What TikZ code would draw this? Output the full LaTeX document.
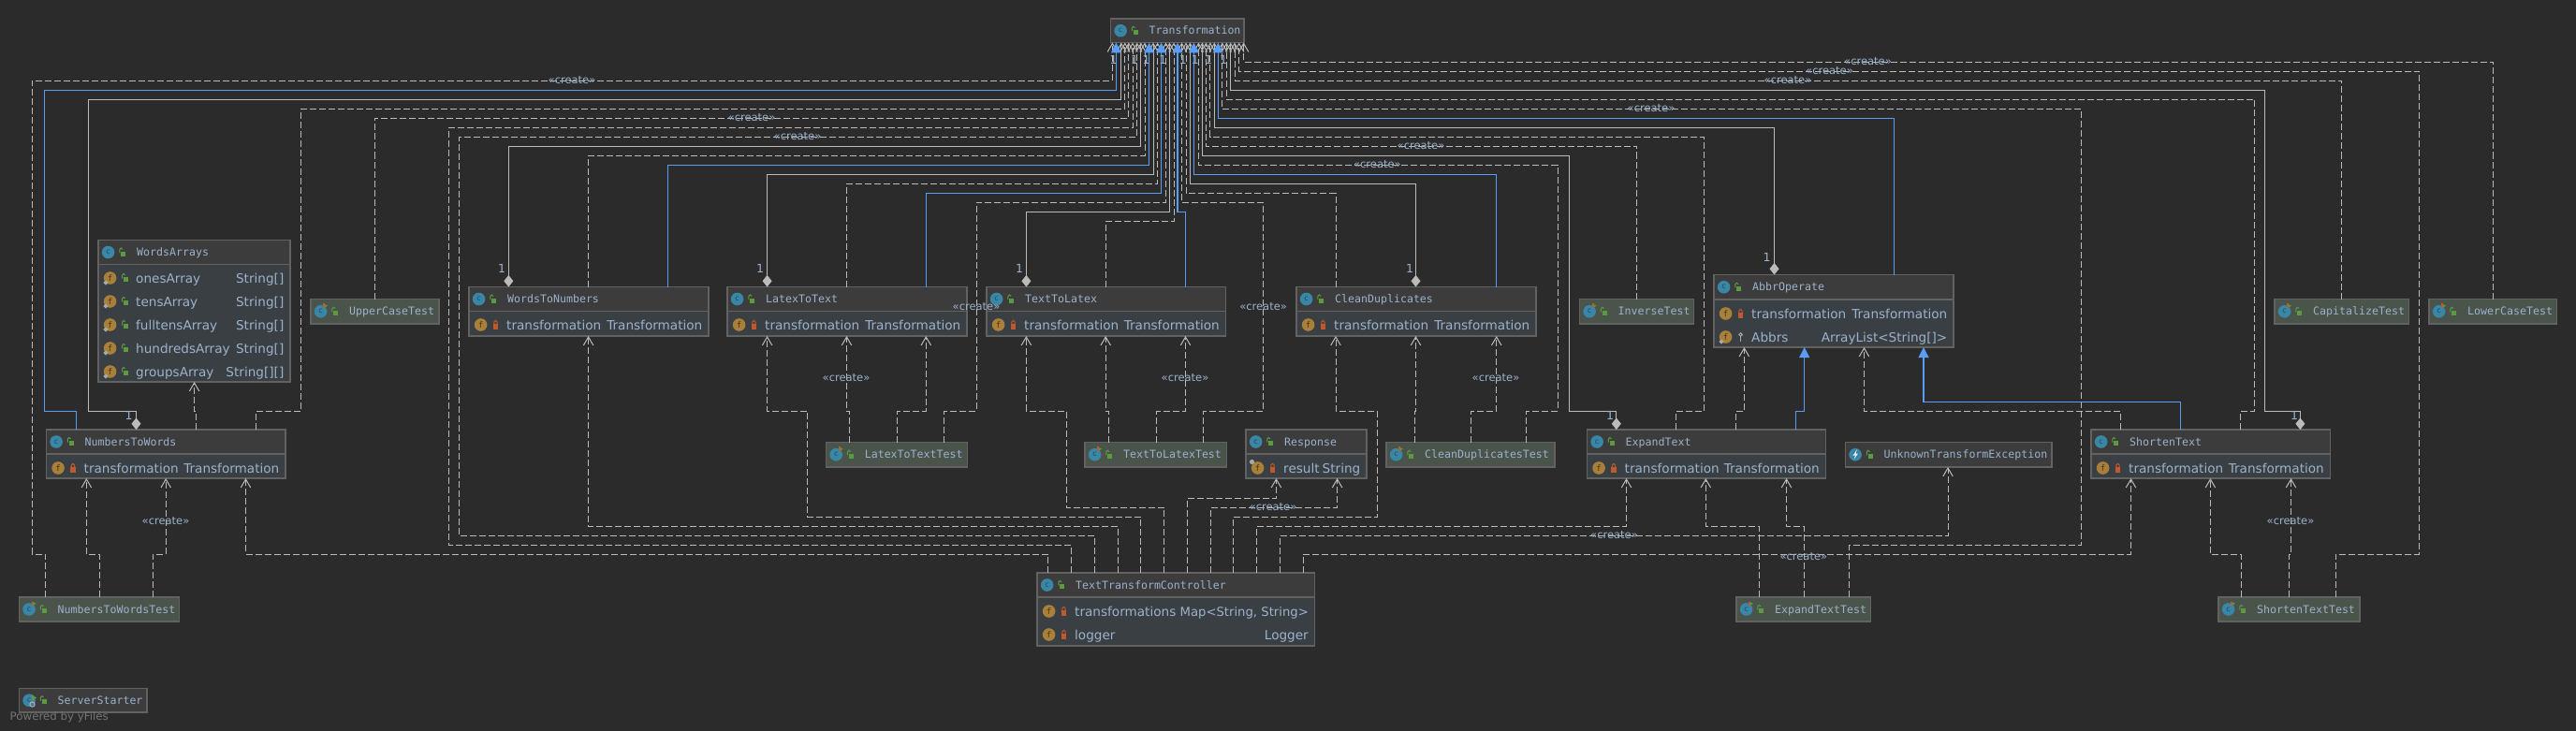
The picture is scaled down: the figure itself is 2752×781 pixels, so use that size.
\documentclass[tikz,border=0pt]{standalone}
\usepackage{fontspec}
\setmainfont{DejaVu Sans}
\newfontfamily\titlefont{DejaVu Sans Mono}
\usetikzlibrary{arrows.meta}
\definecolor{bgc}{HTML}{2B2B2B}
\definecolor{hdr}{HTML}{3C3C3C}
\definecolor{fld}{HTML}{3A3F43}
\definecolor{tst}{HTML}{4A544B}
\definecolor{brd}{HTML}{626262}
\definecolor{txt}{HTML}{9CB2CC}
\definecolor{lin}{HTML}{BBBBBB}
\definecolor{blu}{HTML}{589DF6}
\definecolor{tealc}{HTML}{3A86A6}
\definecolor{tealdk}{HTML}{1D4A5E}
\definecolor{orng}{HTML}{A9803A}
\definecolor{orngdk}{HTML}{4A3413}
\definecolor{grn}{HTML}{5B9A41}
\definecolor{redl}{HTML}{C05A2E}
\definecolor{mrkc}{HTML}{A8A8A8}
\tikzset{
  x=1pt,y=-1pt,
  boxn/.style={draw=brd,line width=1.2pt,inner sep=0pt,outer sep=0pt,rectangle},
  titlen/.style={anchor=base west,inner sep=0pt,text=txt,font=\titlefont\fontsize{11.6}{12}\selectfont},
  namen/.style={anchor=base west,inner sep=0pt,text=txt,font=\fontsize{13.6}{14}\selectfont},
  typen/.style={anchor=base east,inner sep=0pt,text=txt,font=\fontsize{13.6}{14}\selectfont},
  lab/.style={inner sep=0pt,text=txt,font=\fontsize{11.5}{12}\selectfont},
  mult/.style={inner sep=0pt,text=txt,font=\fontsize{12.5}{13}\selectfont},
  cicon/.style={circle,fill=tealc,inner sep=0pt,minimum size=13.6pt,text=tealdk,font=\titlefont\fontsize{8}{8}\selectfont},
  ficon/.style={circle,fill=orng,inner sep=0pt,minimum size=13.6pt,text=orngdk,font=\titlefont\fontsize{9}{9}\selectfont},
  dep/.style={draw=lin,line width=1pt,dash pattern=on 7pt off 3pt,-{Straight Barb[length=9pt,width=10.5pt,line width=1pt]}},
  ass/.style={draw=lin,line width=1pt,{Diamond[length=12.5pt,width=10pt,fill=lin]}-{Straight Barb[length=9pt,width=10.5pt,line width=1pt]}},
  inh/.style={draw=blu,line width=1.2pt,-{Triangle[length=11pt,width=11pt,fill=blu]}},
}
% open padlock, closed padlock, key
\newcommand{\lockO}[2]{\fill[grn] ({#1-1.5},{#2-1}) rectangle ({#1+3.5},{#2+4});
  \draw[grn,line width=1pt] ({#1-3},{#2+0.5}) -- ({#1-3},{#2-3}) arc[start angle=180,end angle=360,radius=1.6];}
\newcommand{\lockC}[2]{\fill[redl] ({#1-2.8},{#2-1}) rectangle ({#1+2.8},{#2+4.5});
  \draw[redl,line width=1pt] ({#1-1.7},{#2-1}) -- ({#1-1.7},{#2-3}) arc[start angle=180,end angle=360,radius=1.7] -- ({#1+1.7},{#2-1});}
\newcommand{\lockK}[2]{\draw[mrkc,line width=1pt] (#1,{#2-2.5}) circle[radius=1.8];
  \fill[mrkc] ({#1-0.8},{#2-1}) rectangle ({#1+0.8},{#2+4.5});}
\newcommand{\statm}[2]{\fill[mrkc] ({#1-4.6},{#2+2.4}) -- ({#1-2},{#2+5}) -- ({#1-4.6},{#2+7.6}) -- ({#1-7.2},{#2+5}) -- cycle;}
% \cbox{name}{x1}{y1}{x2}{y2}{header bottom}{fill}{title}
\newcommand{\cbox}[8]{%
  \pgfmathsetmacro{\cxx}{(#2+#4)/2}\pgfmathsetmacro{\cyy}{(#3+#5)/2}%
  \pgfmathsetmacro{\ww}{#4-#2}\pgfmathsetmacro{\hh}{#5-#3}%
  \pgfmathsetmacro{\hyy}{(#3+#6)/2}\pgfmathsetmacro{\lkx}{#2+25.8}%
  \node[boxn,fill=fld,minimum width=\ww pt,minimum height=\hh pt] (#1) at (\cxx,\cyy) {};
  \fill[#7] (#2,#3) rectangle (#4,#6);
  \draw[brd,line width=1.2pt] (#2,#3) rectangle (#4,#5);
  \draw[brd,line width=1.2pt] (#2,#6) -- (#4,#6);
  \node[titlen] (#1-title) at ({#2+41},{\hyy+4}) {#8};
  \node[cicon] (#1-icon) at ({#2+10.6},\hyy) {c};
  \lockO{\lkx}{\hyy}
}
% test-marked version of the icon decorations
\newcommand{\tmark}[2]{\fill[redl] ({#1+2.5},{#2-8.5}) rectangle ({#1+4.5},{#2-4});\fill[grn] ({#1+4.5},{#2-7.5}) -- ({#1+7.5},{#2-6}) -- ({#1+4.5},{#2-4.5}) -- cycle;}
% \frow{id}{x1}{x2}{y}{name}{type}{lock: O/C/K}
\newcommand{\frow}[7]{%
  \pgfmathsetmacro{\lkx}{#2+28.5}%
  \node[ficon] (#1-icon) at ({#2+12.6},#4) {f};
  \csname lock#7\endcsname{\lkx}{#4}
  \node[namen] (#1-name) at ({#2+40},{#4+5}) {#5};
  \node[typen] (#1-type) at ({#3-6.5},{#4+5}) {#6};
}
% \cn{style}{source anchor}{x}{middle points}{target anchor}{x}
\newcommand{\cn}[6]{\draw[#1] (#3,0 |- #2) -- #4 -- (#6,0 |- #5);}
\begin{document}
\begin{tikzpicture}
\useasboundingbox (0,0) rectangle (2752,781);
\fill[bgc] (0,0) rectangle (2752,781);

% ---------- classes
\cbox{T}{1186.5}{20}{1329}{45.5}{45.5}{hdr}{Transformation}
\cbox{WA}{105}{256.5}{310}{408}{282.5}{hdr}{WordsArrays}
\frow{WA1}{105}{310}{297}{onesArray}{String[]}{O}\statm{117.6}{297}
\frow{WA2}{105}{310}{322}{tensArray}{String[]}{O}\statm{117.6}{322}
\frow{WA3}{105}{310}{347}{fulltensArray}{String[]}{O}\statm{117.6}{347}
\frow{WA4}{105}{310}{372}{hundredsArray}{String[]}{O}\statm{117.6}{372}
\frow{WA5}{105}{310}{397}{groupsArray}{String[][]}{O}\statm{117.6}{397}

\cbox{UCT}{332}{319.5}{469}{346}{346}{tst}{UpperCaseTest}\tmark{342.6}{332.8}
\cbox{IT}{1687.5}{319.5}{1809.5}{346}{346}{tst}{InverseTest}\tmark{1698.1}{332.8}
\cbox{CT}{2430}{319.5}{2573.5}{346}{346}{tst}{CapitalizeTest}\tmark{2440.6}{332.8}
\cbox{LCT}{2595}{319.5}{2731.5}{346}{346}{tst}{LowerCaseTest}\tmark{2605.6}{332.8}

\cbox{W2N}{501}{306.5}{757}{359}{332.5}{hdr}{WordsToNumbers}
\frow{W2N1}{501}{757}{347}{transformation}{Transformation}{C}
\cbox{L2T}{777}{306.5}{1033}{359}{332.5}{hdr}{LatexToText}
\frow{L2T1}{777}{1033}{347}{transformation}{Transformation}{C}
\cbox{T2L}{1054}{306.5}{1309.5}{359}{332.5}{hdr}{TextToLatex}
\frow{T2L1}{1054}{1309.5}{347}{transformation}{Transformation}{C}
\cbox{CD}{1385}{306.5}{1641}{359}{332.5}{hdr}{CleanDuplicates}
\frow{CD1}{1385}{1641}{347}{transformation}{Transformation}{C}

\cbox{AO}{1831}{293.5}{2087}{371}{320}{hdr}{AbbrOperate}
\frow{AO1}{1831}{2087}{335}{transformation}{Transformation}{C}
\frow{AO2}{1831}{2087}{360}{Abbrs}{ArrayList<String[]>}{K}\statm{1843.6}{360}

\cbox{N2W}{49.5}{459}{305}{511}{485}{hdr}{NumbersToWords}
\frow{N2W1}{49.5}{305}{500}{transformation}{Transformation}{C}
\cbox{R}{1331}{459}{1460}{511}{485}{hdr}{Response}
\frow{R1}{1331}{1460}{500}{result}{String}{C}
\fill[mrkc] (1337.5,493.5) circle[radius=2.6];
\cbox{ET}{1695.5}{459}{1950.5}{511}{485}{hdr}{ExpandText}
\frow{ET1}{1695.5}{1950.5}{500}{transformation}{Transformation}{C}
\cbox{ST}{2234}{459}{2489.5}{511}{485}{hdr}{ShortenText}
\frow{ST1}{2234}{2489.5}{500}{transformation}{Transformation}{C}

\cbox{L2TT}{882.6}{472.5}{1033.5}{499}{499}{tst}{LatexToTextTest}\tmark{893.2}{485.8}
\cbox{T2LT}{1159}{472.5}{1310.7}{499}{499}{tst}{TextToLatexTest}\tmark{1169.6}{485.8}
\cbox{CDT}{1481}{472.5}{1661}{499}{499}{tst}{CleanDuplicatesTest}\tmark{1491.6}{485.8}
\cbox{UTE}{1971.5}{472.5}{2192}{499}{499}{hdr}{UnknownTransformException}
\fill[white!85!tealc] (1984,480) -- (1979.5,486.5) -- (1982,486.5) -- (1980.5,491) -- (1985,484.5) -- (1982.5,484.5) -- cycle;

\cbox{N2WT}{20.5}{638}{191.5}{664}{664}{tst}{NumbersToWordsTest}\tmark{31.1}{651}
\cbox{ETT}{1855}{638}{1998.5}{664}{664}{tst}{ExpandTextTest}\tmark{1865.6}{651}
\cbox{STT}{2370}{638}{2521}{664}{664}{tst}{ShortenTextTest}\tmark{2380.6}{651}
\cbox{SS}{20.5}{735.5}{157}{761}{761}{hdr}{ServerStarter}
\fill[grn] (34,742) -- (39,745.5) -- (34,749) -- cycle;
\draw[mrkc,line width=1.2pt] (34.5,752.5) circle[radius=2.6];

\cbox{TTC}{1108}{612}{1404.5}{690}{638}{hdr}{TextTransformController}
\frow{TTC1}{1108}{1404.5}{653}{transformations}{\fontsize{13.2}{14}\selectfont Map<String, String>}{C}
\frow{TTC2}{1108}{1404.5}{678}{logger}{Logger}{C}

\node[anchor=west,inner sep=0pt,text=white!35!bgc,font=\fontsize{11.8}{12}\selectfont] (yf) at (10.5,766) {Powered by yFiles};

% ---------- edges to Transformation
\cn{dep}{N2WT.north}{48.7}{(48.7,592) -- (34.4,592) -- (34.4,86.3) -- (1188.4,86.3)}{T.south}{1188.4}
\cn{ass}{N2W.north}{145.5}{(145.5,439.3) -- (94.6,439.3) -- (94.6,106.3) -- (1197.8,106.3)}{T.south}{1197.8}
\cn{dep}{N2W.north}{273.7}{(273.7,439.3) -- (321.4,439.3) -- (321.4,116.3) -- (1201.8,116.3)}{T.south}{1201.8}
\cn{dep}{UCT.north}{400.4}{(400.4,126.3) -- (1205.8,126.3)}{T.south}{1205.8}
\cn{dep}{TTC.north}{1144.6}{(1144.6,582.3) -- (479.5,582.3) -- (479.5,136.3) -- (1210,136.3)}{T.south}{1210}
\cn{dep}{TTC.north}{1169.6}{(1169.6,572.3) -- (490.6,572.3) -- (490.6,146.3) -- (1214.7,146.3)}{T.south}{1214.7}
\cn{ass}{W2N.north}{543.3}{(543.3,156.3) -- (1218.8,156.3)}{T.south}{1218.8}
\cn{dep}{W2N.north}{628.6}{(628.6,166.3) -- (1223,166.3)}{T.south}{1223}
\cn{ass}{L2T.north}{819.6}{(819.6,186.3) -- (1232,186.3)}{T.south}{1232}
\cn{dep}{L2T.north}{904.5}{(904.5,196.3) -- (1236.6,196.3)}{T.south}{1236.6}
\cn{dep}{L2TT.north}{1008.5}{(1008.5,439.3) -- (1043.3,439.3) -- (1043.3,216.3) -- (1245.5,216.3)}{T.south}{1245.5}
\cn{ass}{T2L.north}{1096.4}{(1096.4,226.3) -- (1249.5,226.3)}{T.south}{1249.5}
\cn{dep}{T2L.north}{1181}{(1181,236.3) -- (1254,236.3)}{T.south}{1254}
\cn{dep}{T2LT.north}{1285}{(1285,439.3) -- (1349.6,439.3) -- (1349.6,216.3) -- (1262.5,216.3)}{T.south}{1262.5}
\cn{dep}{CD.north}{1427}{(1427,206.3) -- (1267,206.3)}{T.south}{1267}
\cn{ass}{CD.north}{1512.5}{(1512.5,196.3) -- (1271.4,196.3)}{T.south}{1271.4}
\cn{dep}{CDT.north}{1630.4}{(1630.4,439.3) -- (1664.3,439.3) -- (1664.3,176.3) -- (1280.4,176.3)}{T.south}{1280.4}
\cn{ass}{ET.north}{1726.8}{(1726.8,439.3) -- (1676.3,439.3) -- (1676.3,166.3) -- (1284.4,166.3)}{T.south}{1284.4}
\cn{dep}{IT.north}{1748.7}{(1748.7,156.3) -- (1288.4,156.3)}{T.south}{1288.4}
\cn{dep}{ET.north}{1790.6}{(1790.6,439.3) -- (1820.5,439.3) -- (1820.5,146.3) -- (1292.9,146.3)}{T.south}{1292.9}
\cn{ass}{AO.north}{1895.5}{(1895.5,136.3) -- (1297.3,136.3)}{T.south}{1297.3}
\cn{dep}{ETT.north}{1975.4}{(1975.4,582.3) -- (2223.4,582.3) -- (2223.4,116.3) -- (1305.8,116.3)}{T.south}{1305.8}
\cn{dep}{ST.north}{2393.5}{(2393.5,439.3) -- (2408.7,439.3) -- (2408.7,106.3) -- (1310.3,106.3)}{T.south}{1310.3}
\cn{ass}{ST.north}{2457.4}{(2457.4,439.3) -- (2419.4,439.3) -- (2419.4,96.3) -- (1314.7,96.3)}{T.south}{1314.7}
\cn{dep}{CT.north}{2501.5}{(2501.5,86.3) -- (1319,86.3)}{T.south}{1319}
\cn{dep}{STT.north}{2495.3}{(2495.3,592) -- (2584.6,592) -- (2584.6,76.3) -- (1323.7,76.3)}{T.south}{1323.7}
\cn{dep}{LCT.north}{2663.6}{(2663.6,66.3) -- (1328.6,66.3)}{T.south}{1328.6}
% inheritance, on top of the others
\cn{inh}{N2W.north}{81.7}{(81.7,439.3) -- (47.3,439.3) -- (47.3,96.3) -- (1192.4,96.3)}{T.south}{1192.4}
\cn{inh}{W2N.north}{713.4}{(713.4,176.3) -- (1227.7,176.3)}{T.south}{1227.7}
\cn{inh}{L2T.north}{989.3}{(989.3,206.3) -- (1240.6,206.3)}{T.south}{1240.6}
\cn{inh}{T2L.north}{1266.5}{(1266.5,226.3) -- (1258,226.3)}{T.south}{1258}
\cn{inh}{CD.north}{1598.7}{(1598.7,186.3) -- (1275.4,186.3)}{T.south}{1275.4}
\cn{inh}{AO.north}{2023.7}{(2023.7,126.3) -- (1301.3,126.3)}{T.south}{1301.3}

% ---------- other edges
\cn{dep}{N2WT.north}{106}{(106,592) -- (92.4,592)}{N2W.south}{92.4}
\cn{dep}{N2WT.north}{163.4}{(163.4,592) -- (177.2,592)}{N2W.south}{177.2}
\cn{dep}{TTC.north}{1119.6}{(1119.6,592) -- (262.5,592)}{N2W.south}{262.5}
\cn{dep}{N2W.north}{209.4}{(209.4,439.3) -- (207.6,439.3)}{WA.south}{207.6}
\cn{dep}{TTC.north}{1194.6}{(1194.6,562.3) -- (628.6,562.3)}{W2N.south}{628.6}
\cn{dep}{TTC.north}{1218.8}{(1218.8,552.3) -- (862.5,552.3) -- (862.5,439.3) -- (819.6,439.3)}{L2T.south}{819.6}
\cn{dep}{TTC.north}{1243.8}{(1243.8,542.3) -- (1139.3,542.3) -- (1139.3,439.3) -- (1096.4,439.3)}{T2L.south}{1096.4}
\cn{dep}{TTC.north}{1268.8}{(1268.8,532.3) -- (1363.4,532.3)}{R.south}{1363.4}
\cn{dep}{TTC.north}{1293.8}{(1293.8,542.3) -- (1428.6,542.3)}{R.south}{1428.6}
\cn{dep}{TTC.north}{1317.4}{(1317.4,552.3) -- (1471.4,552.3) -- (1471.4,439.3) -- (1427,439.3)}{CD.south}{1427}
\cn{dep}{TTC.north}{1342.4}{(1342.4,562.3) -- (1737.5,562.3)}{ET.south}{1737.5}
\cn{dep}{TTC.north}{1367.4}{(1367.4,572.3) -- (2081,572.3)}{UTE.south}{2081}
\cn{dep}{TTC.north}{1392.4}{(1392.4,592) -- (2276.5,592)}{ST.south}{2276.5}
\cn{dep}{L2TT.north}{907.6}{(907.6,439.3) -- (904.5,439.3)}{L2T.south}{904.5}
\cn{dep}{L2TT.north}{958.5}{(958.5,439.3) -- (989.3,439.3)}{L2T.south}{989.3}
\cn{dep}{T2LT.north}{1184.4}{(1184.4,439.3) -- (1181.2,439.3)}{T2L.south}{1181.2}
\cn{dep}{T2LT.north}{1235.7}{(1235.7,439.3) -- (1266.5,439.3)}{T2L.south}{1266.5}
\cn{dep}{CDT.north}{1511.6}{(1511.6,439.3) -- (1512.5,439.3)}{CD.south}{1512.5}
\cn{dep}{CDT.north}{1571.4}{(1571.4,439.3) -- (1598.7,439.3)}{CD.south}{1598.7}
\cn{dep}{ET.north}{1854.5}{(1854.5,439.3) -- (1863.4,439.3)}{AO.south}{1863.4}
\cn{inh}{ET.north}{1918.3}{(1918.3,439.3) -- (1927.7,439.3)}{AO.south}{1927.7}
\cn{dep}{ETT.north}{1879.5}{(1879.5,562.3) -- (1822.3,562.3)}{ET.south}{1822.3}
\cn{dep}{ETT.north}{1927.7}{(1927.7,562.3) -- (1908.5,562.3)}{ET.south}{1908.5}
\cn{dep}{ST.north}{2265.4}{(2265.4,439.3) -- (1991.5,439.3)}{AO.south}{1991.5}
\cn{inh}{ST.north}{2329.7}{(2329.7,429.3) -- (2055,429.3)}{AO.south}{2055}
\cn{dep}{STT.north}{2394.4}{(2394.4,592) -- (2361.4,592)}{ST.south}{2361.4}
\cn{dep}{STT.north}{2445.8}{(2445.8,592) -- (2447.5,592)}{ST.south}{2447.5}

% ---------- labels
\node[lab] (c01) at (611,86) {«create»};
\node[lab] (c02) at (803,126) {«create»};
\node[lab] (c03) at (852,146) {«create»};
\node[lab] (c04) at (1043,328) {«create»};
\node[lab] (c05) at (1349.6,328) {«create»};
\node[lab] (c06) at (904,404) {«create»};
\node[lab] (c07) at (1266,404) {«create»};
\node[lab] (c08) at (1598,404) {«create»};
\node[lab] (c09) at (1471.4,176) {«create»};
\node[lab] (c10) at (1518,156) {«create»};
\node[lab] (c11) at (1764,116) {«create»};
\node[lab] (c12) at (1910,86) {«create»};
\node[lab] (c13) at (1954.5,76) {«create»};
\node[lab] (c14) at (1995.5,66) {«create»};
\node[lab] (c15) at (177,557) {«create»};
\node[lab] (c16) at (2447,557) {«create»};
\node[lab] (c17) at (1360,542) {«create»};
\node[lab] (c18) at (1724.5,572) {«create»};
\node[lab] (c19) at (1926.8,595) {«create»};

\node[mult] (m01) at (1189.7,64) {1};
\node[mult] (m02) at (1212,64) {1};
\node[mult] (m03) at (1224.6,64) {1};
\node[mult] (m04) at (1242.4,64) {1};
\node[mult] (m05) at (1263.8,64) {1};
\node[mult] (m06) at (1276.8,64) {1};
\node[mult] (m07) at (1291,64) {1};
\node[mult] (m08) at (1307,64) {1};
\node[mult] (m09) at (536,287) {1};
\node[mult] (m10) at (812,287) {1};
\node[mult] (m11) at (1089,287) {1};
\node[mult] (m12) at (1506,287) {1};
\node[mult] (m13) at (1887.5,275) {1};
\node[mult] (m14) at (137.5,444) {1};
\node[mult] (m15) at (1720,444) {1};
\node[mult] (m16) at (2451,444) {1};
\end{tikzpicture}
\end{document}
